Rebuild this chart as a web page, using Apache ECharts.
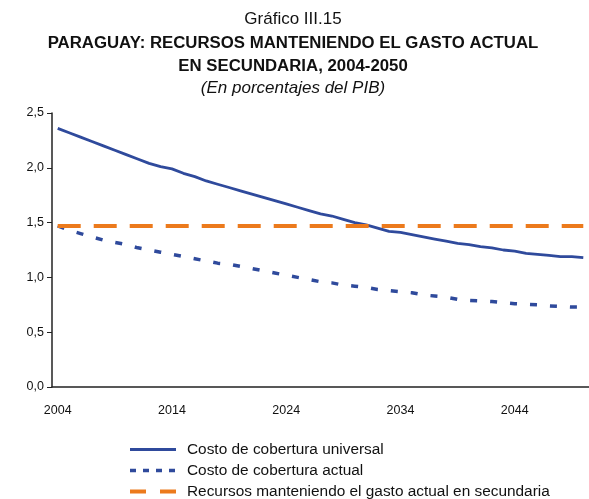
<!DOCTYPE html>
<html>
<head>
<meta charset="utf-8">
<script src="https://cdn.jsdelivr.net/npm/echarts@6/dist/echarts.min.js"></script>
<style>
  html, body { margin: 0; padding: 0; background: #fff; }
  #chart { width: 589px; height: 499px; }
</style>
</head>
<body>
<div id="chart"></div>
<script>
// años 2004-2050
const years = []
for (let y = 2004; y <= 2050; y++) years.push(String(y))

const costoUniversal = [
  2.36, 2.32, 2.28, 2.24, 2.20, 2.16, 2.12, 2.08, 2.04, 2.01,
  1.99, 1.95, 1.92, 1.88, 1.85, 1.82, 1.79, 1.76, 1.73, 1.70,
  1.67, 1.64, 1.61, 1.58, 1.56, 1.53, 1.50, 1.48, 1.45, 1.42,
  1.41, 1.39, 1.37, 1.35, 1.33, 1.31, 1.30, 1.28, 1.27, 1.25,
  1.24, 1.22, 1.21, 1.20, 1.19, 1.19, 1.18
]
const costoActual = [
  1.47, 1.43, 1.40, 1.37, 1.34, 1.32, 1.30, 1.27, 1.25, 1.23,
  1.21, 1.19, 1.17, 1.15, 1.13, 1.12, 1.10, 1.08, 1.06, 1.04,
  1.02, 1.00, 0.98, 0.96, 0.95, 0.93, 0.92, 0.91, 0.89, 0.88,
  0.87, 0.86, 0.84, 0.83, 0.82, 0.80, 0.79, 0.785, 0.78, 0.77,
  0.76, 0.755, 0.75, 0.74, 0.735, 0.73, 0.73
]
const recursos = years.map(() => 1.47)

const seriesNames = [
  'Costo de cobertura universal',
  'Costo de cobertura actual',
  'Recursos manteniendo el gasto actual en secundaria'
]

const blue = '#2f4a9c'
const orange = '#ec7a1c'
const font = 'Liberation Sans, Arial, Helvetica, sans-serif'

// leyenda dibujada a mano (linea + texto)
const legendStyles = [
  { color: blue, width: 3, type: 'solid' },
  { color: blue, width: 3.5, type: [6, 7] },
  { color: orange, width: 4, type: [16, 14] }
]
const legendGraphics = []
seriesNames.forEach((name, i) => {
  const y = 449.5 + i * 21
  legendGraphics.push({
    type: 'line',
    shape: { x1: 130, y1: y, x2: 176, y2: y },
    style: { stroke: legendStyles[i].color, lineWidth: legendStyles[i].width, lineDash: legendStyles[i].type === 'solid' ? null : legendStyles[i].type }
  })
  legendGraphics.push({
    type: 'text',
    x: 187,
    y: y,
    style: { text: name, fontSize: 15.4, fontFamily: font, fill: '#111', verticalAlign: 'middle' }
  })
})

const chart = echarts.init(document.getElementById('chart'))
chart.setOption({
  animation: false,
  textStyle: { fontFamily: font },
  title: [
    { text: 'Gráfico III.15', left: 288, top: 6, textAlign: 'center',
      textStyle: { fontSize: 17, fontWeight: 'normal', color: '#111', fontFamily: font } },
    { text: 'PARAGUAY: RECURSOS MANTENIENDO EL GASTO ACTUAL\nEN SECUNDARIA, 2004-2050', left: 288, top: 27, textAlign: 'center',
      textStyle: { fontSize: 16.8, fontWeight: 'bold', color: '#111', lineHeight: 23, fontFamily: font } },
    { text: '(En porcentajes del PIB)', left: 288, top: 75, textAlign: 'center',
      textStyle: { fontSize: 17, fontWeight: 'normal', fontStyle: 'italic', color: '#111', fontFamily: font } }
  ],
  graphic: legendGraphics,
  grid: { left: 52, right: 0, top: 113, bottom: 112 },
  xAxis: {
    type: 'category',
    data: years,
    boundaryGap: true,
    axisLine: { lineStyle: { color: '#222', width: 1.5 } },
    axisTick: { interval: 9, length: 5, lineStyle: { color: '#222' } },
    axisLabel: { interval: 9, margin: 17, fontSize: 12.5, color: '#111' },
    splitLine: { show: false }
  },
  yAxis: {
    type: 'value',
    min: 0,
    max: 2.5,
    interval: 0.5,
    axisLine: { show: true, lineStyle: { color: '#222', width: 1.5 } },
    axisTick: { show: true, length: 5, lineStyle: { color: '#222' } },
    axisLabel: { margin: 8, fontSize: 12.5, color: '#111',
      formatter: v => v.toFixed(1).replace('.', ',') },
    splitLine: { show: false }
  },
  series: [
    { name: seriesNames[0], type: 'line', data: costoUniversal, symbol: 'none',
      lineStyle: { color: blue, width: 2.8 } },
    { name: seriesNames[1], type: 'line', data: costoActual, symbol: 'none',
      lineStyle: { color: blue, width: 3.5, type: [7, 13] } },
    { name: seriesNames[2], type: 'line', data: recursos, symbol: 'none',
      lineStyle: { color: orange, width: 4, type: [23, 13] } }
  ]
})
</script>
</body>
</html>
